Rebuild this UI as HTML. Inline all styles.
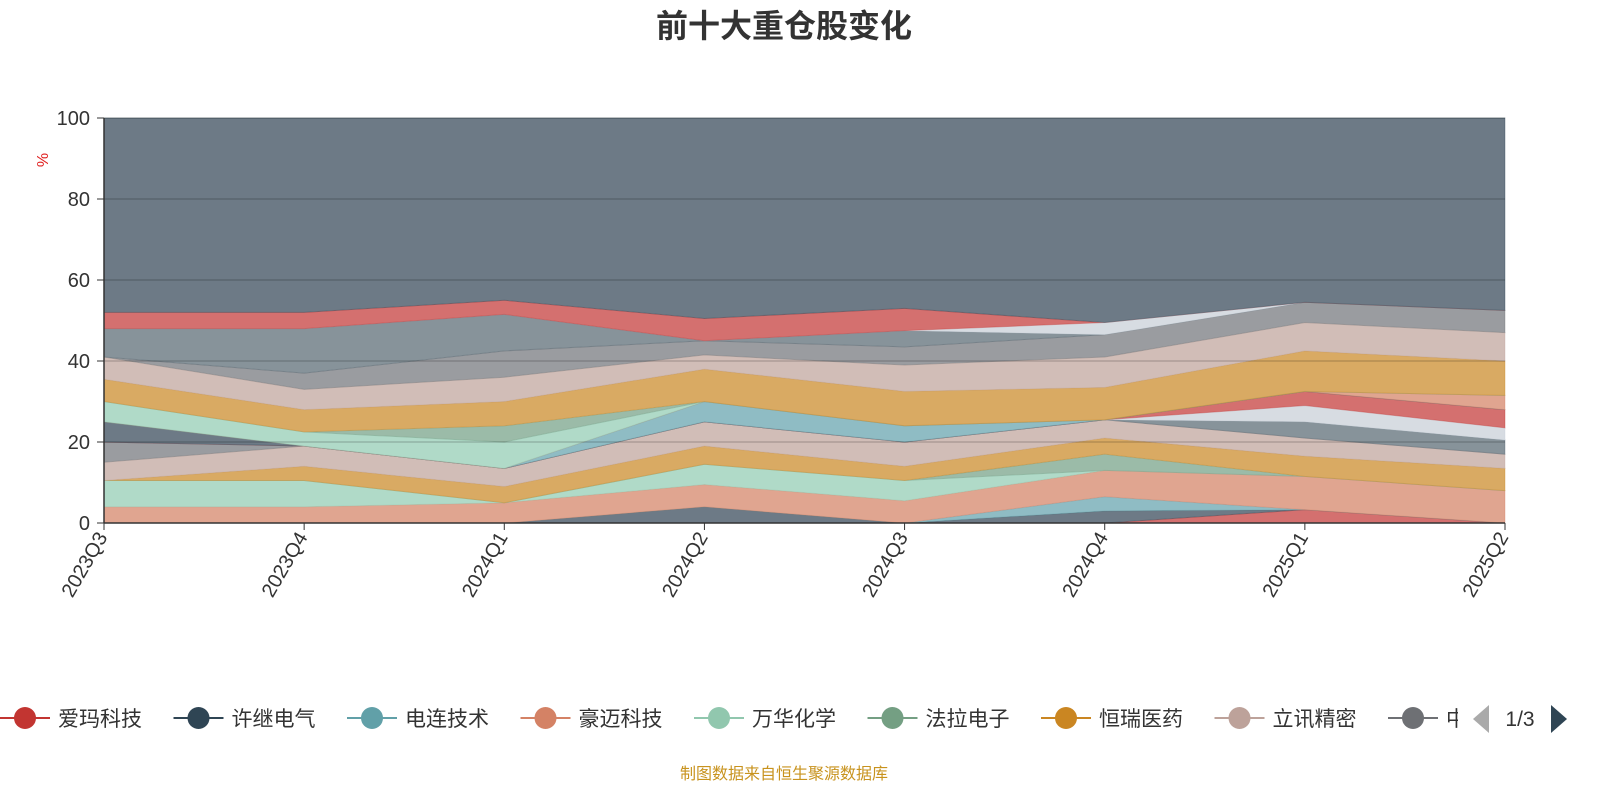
<!DOCTYPE html>
<html><head><meta charset="utf-8">
<style>
html,body{margin:0;padding:0;background:#fff;}
body{width:1600px;height:800px;overflow:hidden;font-family:"Liberation Sans","Noto Sans CJK SC",sans-serif;}
</style></head>
<body>
<svg id="chart" width="1600" height="800" xmlns="http://www.w3.org/2000/svg" font-family="Liberation Sans, Noto Sans CJK SC, sans-serif">
<text x="784" y="37" text-anchor="middle" font-size="32" font-weight="bold" fill="#333">前十大重仓股变化</text>
<text transform="translate(48,160) rotate(-90)" text-anchor="middle" font-size="16" fill="#e01f1f">%</text>
<g id="areas"></g>
<g id="axes"></g>
<g id="legend"></g>
<text x="784" y="779" text-anchor="middle" font-size="16" fill="#c8931e">制图数据来自恒生聚源数据库</text>
</svg>
<script>
const categories=["2023Q3","2023Q4","2024Q1","2024Q2","2024Q3","2024Q4","2025Q1","2025Q2"];
const yTicks=[0,20,40,60,80,100];
const legendNames=["爱玛科技","许继电气","电连技术","豪迈科技","万华化学","法拉电子","恒瑞医药","立讯精密","中"];
const s0=[0,0,0,0,0,0,3.3,0];
const s1=[0,0,0,4,0,3,0,0];
const s2=[0,0,0,0,0,3.5,0,0];
const s3=[4,4,5,5.5,5.5,6.5,8.2,8];
const s4=[6.5,6.5,0,5,5,0,0,0];
const s5=[0,0,0,0,0,4,0,0];
const s6=[0,3.5,4,4.5,3.5,4,5,5.5];
const s7=[4.5,5,4.5,6,6,4.5,4.5,3.5];
const s8=[5,0,0,0,0,0,0,0];
const s9=[0,0,0,0,0,0,4,3.5];
const s10=[0,0,0,0,0,0,4,3];
const s11=[0,0,0,0,0,0,3.5,4.5];
const s12=[5,0,0,0,0,0,0,0];
const s13=[0,0,0,5,4,0,0,0];
const s14=[0,0,0,0,0,0,0,3.5];
const s15=[5,3.5,6.5,0,0,0,0,0];
const s16=[0,0,4,0,0,0,0,0];
const s17=[5.5,5.5,6,8,8.5,8,10,8.5];
const s18=[5.5,5,6,3.5,6.5,7.5,7,7];
const s19=[0,4,6.5,3.5,4.5,5.5,5,5.5];
const s20=[7,11,9,0,4,0,0,0];
const s21=[0,0,0,0,0,3,0,0];
const s22=[4,4,3.5,5.5,5.5,0,0,0];
const seriesList=[s0,s1,s2,s3,s4,s5,s6,s7,s8,s9,s10,s11,s12,s13,s14,s15,s16,s17,s18,s19,s20,s21,s22];
const base=["#c23531","#2f4554","#61a0a8","#d48265","#91c7ae","#749f83","#ca8622","#bda29a","#6e7074","#546570","#c4ccd3"];
const fillC=["#d4706f","#6d7a86","#8fbcc4","#e0a590","#b0dac8","#9bbba8","#d9aa63","#d1bdb7","#9a9ca0","#87939a","#d7dce2"];
const X0=104,X1=1505,Y0=523,Y1=118;
const xS=i=>X0+i*(X1-X0)/(categories.length-1);
const yS=v=>Y0-(v/100)*(Y0-Y1);
const NS="http://www.w3.org/2000/svg";
const areas=document.getElementById('areas');
let cum=categories.map(()=>0);
function addArea(vals,idx,name){
  const lo=cum.slice(); const hi=cum.map((c,i)=>c+vals[i]);
  let d="M"+hi.map((v,i)=>xS(i)+","+yS(v)).join("L");
  for(let i=lo.length-1;i>=0;i--) d+="L"+xS(i)+","+yS(lo[i]);
  d+="Z";
  const p=document.createElementNS(NS,'path');
  p.setAttribute('d',d);p.setAttribute('fill',fillC[idx%11]);
  p.setAttribute('stroke',base[idx%11]);p.setAttribute('stroke-opacity','0.35');p.setAttribute('stroke-width','1');
  
  
  areas.appendChild(p);
  cum=hi;
}
seriesList.forEach((s,k)=>addArea(s,k,'area-series-'+k));
addArea(cum.map(c=>100-c),12,'area-other');
const ax=document.getElementById('axes');
yTicks.forEach(t=>{
  if(t>0){const g=document.createElementNS(NS,'line');
  g.setAttribute('x1',X0);g.setAttribute('x2',X1);g.setAttribute('y1',yS(t));g.setAttribute('y2',yS(t));
  g.setAttribute('stroke','rgba(0,0,0,0.13)');g.setAttribute('stroke-width','2');
  
  ax.appendChild(g);}
  const tk=document.createElementNS(NS,'line');
  tk.setAttribute('x1',X0-7);tk.setAttribute('x2',X0);tk.setAttribute('y1',yS(t));tk.setAttribute('y2',yS(t));tk.setAttribute('stroke','#333');
  
  ax.appendChild(tk);
  const tx=document.createElementNS(NS,'text');
  tx.setAttribute('x',X0-14);tx.setAttribute('y',yS(t)+7);tx.setAttribute('text-anchor','end');tx.setAttribute('font-size','20');tx.setAttribute('fill','#333');
  tx.textContent=t;
  
  ax.appendChild(tx);
});
[[X0,Y1,X0,Y0],[X0,Y0,X1,Y0]].forEach(a=>{const l=document.createElementNS(NS,'line');
l.setAttribute('x1',a[0]);l.setAttribute('y1',a[1]);l.setAttribute('x2',a[2]);l.setAttribute('y2',a[3]);l.setAttribute('stroke','#333');l.setAttribute('stroke-width','1.5');

ax.appendChild(l);});
categories.forEach((c,i)=>{
  const tk=document.createElementNS(NS,'line');
  tk.setAttribute('x1',xS(i));tk.setAttribute('x2',xS(i));tk.setAttribute('y1',Y0);tk.setAttribute('y2',Y0+7);tk.setAttribute('stroke','#333');
  
  ax.appendChild(tk);
  const tx=document.createElementNS(NS,'text');
  tx.setAttribute('transform','translate('+(xS(i)+4)+','+(Y0+14)+') rotate(-60)');
  tx.setAttribute('text-anchor','end');tx.setAttribute('font-size','20');tx.setAttribute('fill','#333');
  tx.textContent=c;
  
  ax.appendChild(tx);
});
const lg=document.getElementById('legend');
legendNames.forEach((n,i)=>{
  const cx=25+i*173.5;
  const g=document.createElementNS(NS,'g');
  
  
  const col=base[i%11];
  g.innerHTML='<line x1="'+(cx-25)+'" y1="718" x2="'+(cx+25)+'" y2="718" stroke="'+col+'" stroke-width="2"/><circle cx="'+cx+'" cy="718" r="11" fill="'+col+'"/><text x="'+(cx+33)+'" y="726" font-size="21" fill="#333">'+n+'</text>';
  lg.appendChild(g);
});
const cover=document.createElementNS(NS,'rect');
cover.setAttribute('x',1458);cover.setAttribute('y',700);cover.setAttribute('width',142);cover.setAttribute('height',40);cover.setAttribute('fill','#fff');

lg.appendChild(cover);
const pg=document.createElementNS(NS,'g');


pg.innerHTML='<polygon points="1489,705 1489,733 1473,719" fill="#aaa"/><text x="1520" y="726" text-anchor="middle" font-size="21" fill="#333">1/3</text><polygon points="1551,705 1551,733 1567,719" fill="#2f4554"/>';
lg.appendChild(pg);
</script>
</body></html>
